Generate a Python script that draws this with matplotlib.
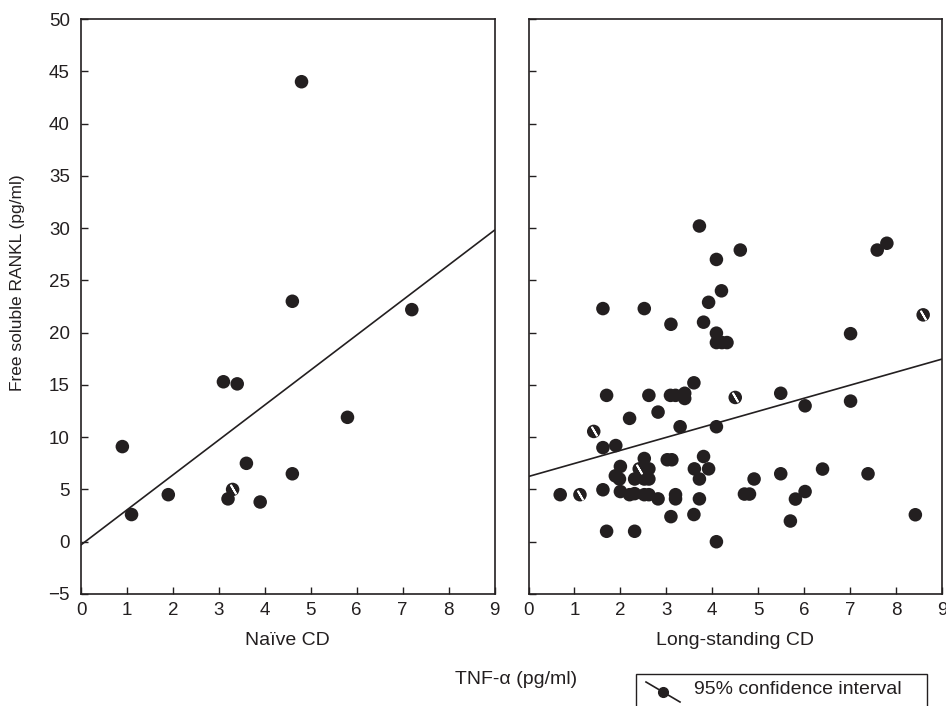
import numpy as np
import matplotlib.pyplot as plt

plt.rcParams['font.family'] = ['Liberation Sans', 'DejaVu Sans']

# naive CD: TNF-alpha vs free soluble RANKL
naive_tnf = [0.9, 1.1, 1.9, 3.1, 3.4, 3.6, 3.2, 3.3, 3.9, 4.6, 5.8, 4.8, 4.6, 7.2]
naive_rankl = [9.1, 2.6, 4.5, 15.3, 15.1, 7.5, 4.1, 5.0, 3.8, 6.5, 11.9, 44.0, 23.0, 22.2]
naive_slashed = [7]          # points drawn with the white slash
naive_fit = [-0.3, 29.8]     # fitted line at x=0 and x=9

# long-standing CD
long_tnf = [3.72, 4.61, 4.09, 4.20, 3.92, 1.62, 2.52, 3.10, 3.81, 4.09,
            4.09, 4.21, 4.32, 3.60, 1.70, 2.62, 3.09, 3.20, 3.40, 3.40,
            4.50, 2.82, 2.20, 3.30, 4.09, 1.42, 1.62, 1.90, 2.52, 2.00,
            3.02, 3.12, 3.81, 2.41, 2.62, 3.61, 3.92, 1.89, 1.98, 2.31,
            2.52, 2.62, 3.72, 1.62, 2.00, 0.69, 1.12, 2.20, 2.31, 2.52,
            2.62, 2.82, 3.20, 3.20, 3.72, 3.10, 3.60, 1.70, 2.31, 4.09,
            7.01, 5.49, 6.02, 7.01, 4.91, 4.70, 4.81, 5.49, 6.40, 7.39,
            6.02, 5.81, 5.70, 8.42, 7.59, 7.80, 8.59]
long_rankl = [30.2, 27.9, 27.0, 24.0, 22.9, 22.3, 22.3, 20.8, 21.0, 19.95,
              19.05, 19.05, 19.05, 15.2, 14.0, 14.0, 14.0, 14.0, 14.2, 13.7,
              13.8, 12.4, 11.8, 11.0, 11.0, 10.55, 9.0, 9.2, 7.96, 7.2,
              7.84, 7.84, 8.15, 6.97, 6.97, 6.97, 6.97, 6.3, 6.0, 6.0,
              6.0, 6.0, 6.0, 4.97, 4.8, 4.5, 4.5, 4.5, 4.6, 4.5,
              4.5, 4.1, 4.5, 4.1, 4.1, 2.4, 2.6, 1.0, 1.0, 0.0,
              19.9, 14.2, 13.0, 13.45, 6.0, 4.56, 4.56, 6.5, 6.95, 6.5,
              4.8, 4.08, 1.98, 2.58, 27.9, 28.55, 21.7]
long_slashed = [20, 25, 33, 46, 76]
long_fit = [6.24, 17.47]

x_ticks = list(range(0, 10))
y_ticks = list(range(-5, 55, 5))

ink = '#231f20'

fig = plt.figure(figsize=(9.46, 7.06), dpi=100)
ax1 = fig.add_axes([81/946, 112/706, 413.5/946, 575/706])
ax2 = fig.add_axes([528.5/946, 112/706, 413.5/946, 575/706])

panels = [(ax1, naive_tnf, naive_rankl, naive_slashed, naive_fit, 'Na\u00efve CD'),
          (ax2, long_tnf, long_rankl, long_slashed, long_fit, 'Long-standing CD')]

for ax, xs, ys, slashed, fit, name in panels:
    ax.plot([0, 9], fit, color=ink, lw=1.2, zorder=2)
    ax.scatter(xs, ys, s=95, color=ink, edgecolors='none', zorder=3)
    sx = [xs[i] for i in slashed]
    sy = [ys[i] for i in slashed]
    ax.scatter(sx, sy, s=45, marker=(2, 2, 30), color='white', linewidths=1.3, zorder=4)
    ax.set_xlim(0, 9)
    ax.set_ylim(-5, 50)
    ax.set_xticks(x_ticks)
    ax.set_yticks(y_ticks)
    ax.tick_params(direction='in', length=5, width=1, color=ink, labelsize=13.5,
                   labelcolor=ink)
    ax.tick_params(axis='x', pad=6)
    ax.tick_params(axis='y', pad=8)
    ax.set_yticklabels(['\u22125' if t < 0 else str(t) for t in y_ticks])
    for sp in ax.spines.values():
        sp.set_color(ink)
        sp.set_linewidth(1.2)
    ax.set_xlabel(name, fontsize=14, color=ink, labelpad=9)

ax2.tick_params(labelleft=False)

fig.text(18/946, 1 - 283/706, 'Free soluble RANKL (pg/ml)', rotation=90,
         ha='center', va='center', fontsize=12.5, color=ink)
fig.text(516/946, 1 - 680/706, 'TNF-\u03b1 (pg/ml)', ha='center', va='center',
         fontsize=14, color=ink)

# legend box
fig.patches.append(plt.Rectangle((636/946, -0.01), 291/946, (706 - 674)/706 + 0.01,
                                 transform=fig.transFigure, fill=False,
                                 edgecolor=ink, lw=1.0))
fig.lines.append(plt.Line2D([646/946, 680/946], [1 - 682/706, 1 - 702/706],
                            transform=fig.transFigure, color=ink, lw=1.2))
fig.lines.append(plt.Line2D([663/946], [1 - 692/706], transform=fig.transFigure,
                            marker='o', markersize=7, color=ink, lw=0))
fig.text(694/946, 1 - 690/706, '95% confidence interval', ha='left', va='center',
         fontsize=14, color=ink)

fig.savefig('out.png', dpi=100)
